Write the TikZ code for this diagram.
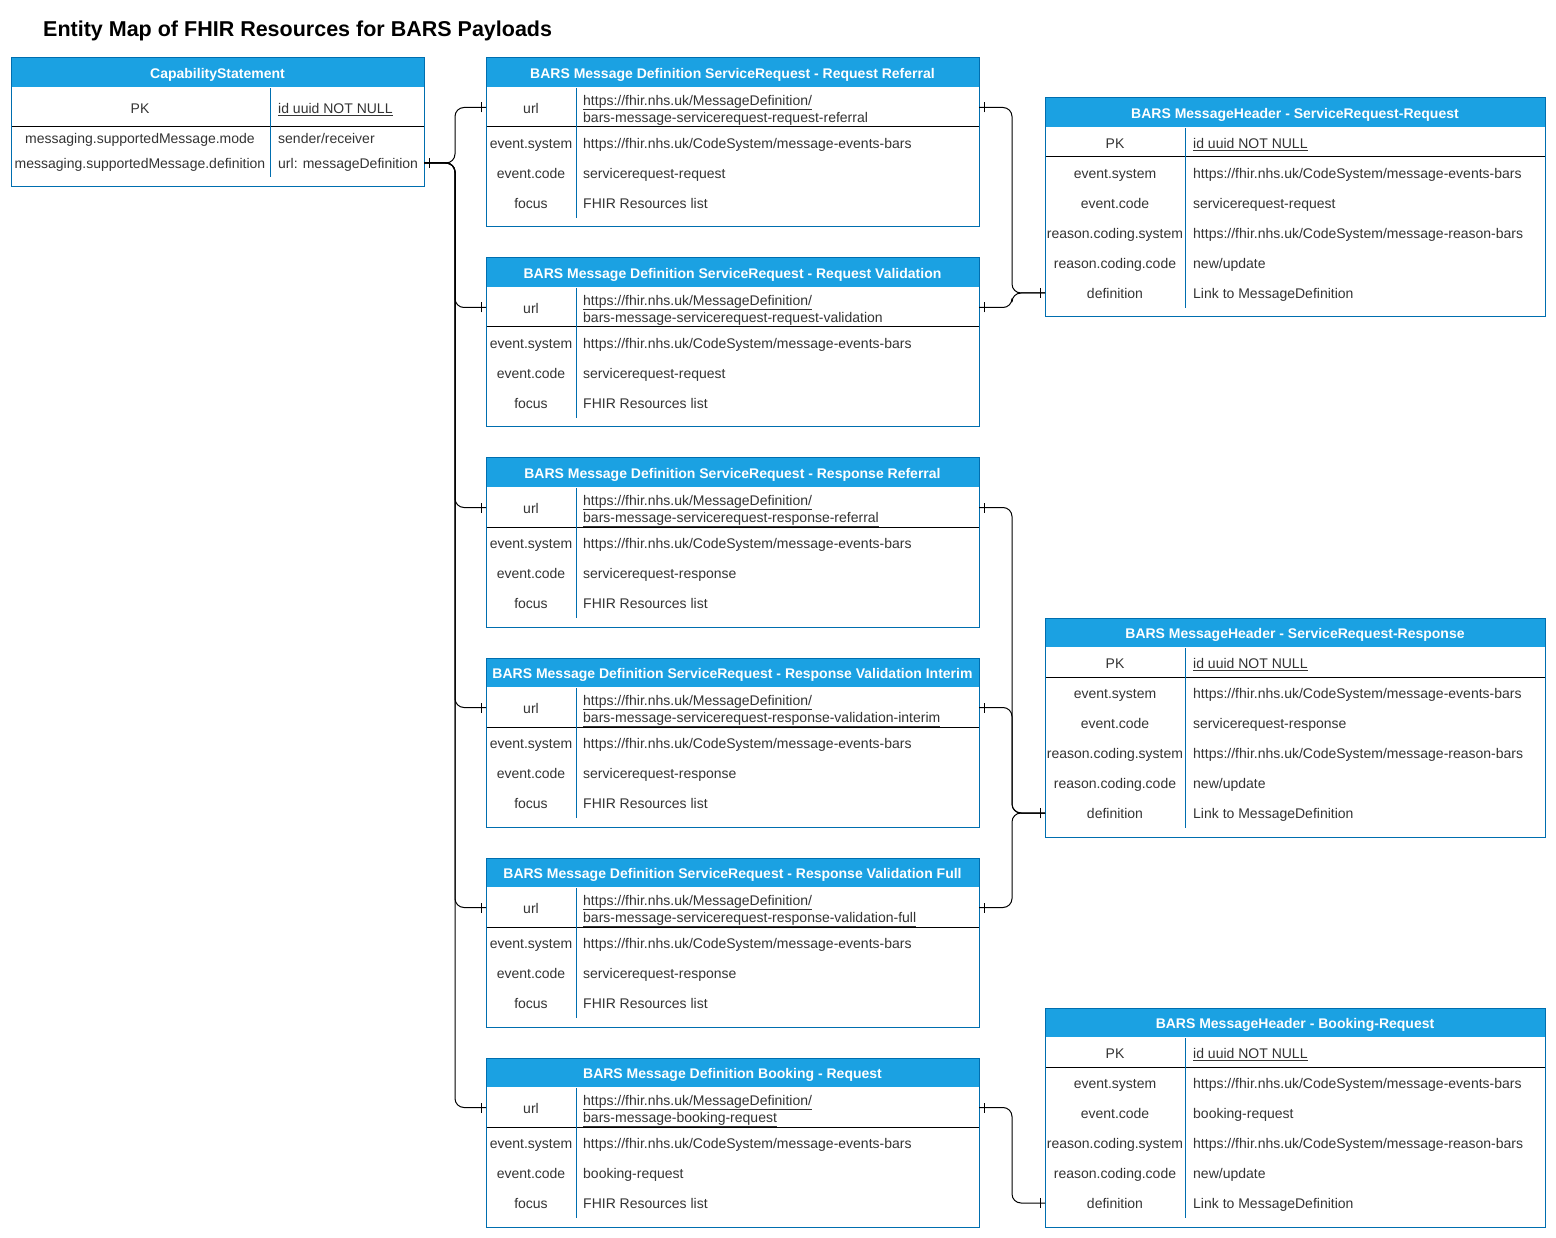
\documentclass[tikz,border=0pt]{standalone}
\usepackage{fontspec}
\setmainfont{Liberation Sans}
\usepackage{tikz}
\usetikzlibrary{decorations.markings}
\definecolor{erblue}{HTML}{1BA1E2}
\definecolor{erline}{HTML}{006EAF}
\definecolor{ertext}{HTML}{333333}

\begin{document}
\begin{tikzpicture}[x=1pt, y=-1pt,
    hdr/.style={fill=erblue},
    box/.style={draw=erline, line width=1pt},
    sep/.style={draw=black, line width=1pt},
    htxt/.style={text=white, font=\fontsize{14}{17}\selectfont\bfseries, inner sep=0pt,
                 yshift=-2pt},
    ktxt/.style={text=ertext, font=\fontsize{14}{17}\selectfont, inner sep=0pt,
                 text height=10pt, text depth=3pt, yshift=-2pt},
    vtxt/.style={ktxt, anchor=west},
    utxt/.style={text=ertext, font=\fontsize{14}{17}\selectfont, inner sep=0pt,
                 anchor=west, align=left, yshift=-3pt},
    fieldrow/.style={inner sep=0pt, outer sep=0pt, minimum height=25},
    rel/.style={draw=black, line width=1pt, rounded corners=9pt, postaction={decorate},
      decoration={markings,
        mark=at position 5pt with {\draw[line width=1pt] (0,-5pt) -- (0,5pt);},
        mark=at position -5pt with {\draw[line width=1pt] (0,-5pt) -- (0,5pt);}}}]
  \useasboundingbox (0,0) rectangle (1556,1238);
  \node[anchor=west, inner sep=0pt, font=\fontsize{21.5}{26}\selectfont\bfseries]
    (title) at (43,31) {Entity Map of FHIR Resources for BARS Payloads};
  % the capability statement
  \fill[hdr] (11,58) rectangle (424,87);
  \node[htxt] (cs-title) at (217.5,73) {CapabilityStatement};
  \node[fieldrow, minimum width=413, anchor=west] (cs-def) at (11,163) {};
  \node[ktxt] (cs-k0) at (140,108) {PK};
  \node[vtxt] (cs-v0) at (278,108) {\underline{id uuid NOT NULL}};
  \node[ktxt] (cs-k1) at (140,138) {messaging.supportedMessage.mode};
  \node[vtxt] (cs-v1) at (278,138) {sender/receiver};
  \node[ktxt] (cs-k2) at (140,163) {messaging.supportedMessage.definition};
  \node[vtxt] (cs-v2) at (278,163) {url: messageDefinition};
  \draw[sep] (11,127) -- (424,127);
  \draw[box] (270,88) -- (270,177);
  \draw[box] (11,58) rectangle (424,187);
  % the six message definitions, one under the other
  \foreach \n/\ttl/\tail/\code in {%
      1/ServiceRequest - Request Referral/servicerequest-request-referral/servicerequest-request,
      2/ServiceRequest - Request Validation/servicerequest-request-validation/servicerequest-request,
      3/ServiceRequest - Response Referral/servicerequest-response-referral/servicerequest-response,
      4/ServiceRequest - Response Validation Interim/servicerequest-response-validation-interim/servicerequest-response,
      5/ServiceRequest - Response Validation Full/servicerequest-response-validation-full/servicerequest-response,
      6/Booking - Request/booking-request/booking-request}{
    \pgfmathsetmacro\ty{58+200*(\n-1)}
    \fill[hdr] (486,\ty) rectangle (979,\ty+29);
    \node[htxt] (md\n-title) at (732.5,\ty+15) {BARS Message Definition \ttl};
    \node[fieldrow, minimum width=493, minimum height=39, anchor=north west]
      (md\n-url) at (486,\ty+30) {};
    \node[ktxt] (md\n-k0) at (531,\ty+50) {url};
    \node[utxt] (md\n-v0) at (583,\ty+50)
      {\underline{https://fhir.nhs.uk/MessageDefinition/}\\\underline{bars-message-\tail}};
    \node[ktxt] (md\n-k1) at (531,\ty+85) {event.system};
    \node[vtxt] (md\n-v1) at (583,\ty+85) {https://fhir.nhs.uk/CodeSystem/message-events-bars};
    \node[ktxt] (md\n-k2) at (531,\ty+115) {event.code};
    \node[vtxt] (md\n-v2) at (583,\ty+115) {\code};
    \node[ktxt] (md\n-k3) at (531,\ty+145) {focus};
    \node[vtxt] (md\n-v3) at (583,\ty+145) {FHIR Resources list};
    \draw[sep] (md\n-url.south west) -- (md\n-url.south east);
    \draw[box] (576,\ty+30) -- (576,\ty+160);
    \draw[box] (486,\ty) rectangle (979,\ty+169);
  }
  % the three message headers on the right
  \foreach \n/\ty/\ttl/\code in {%
      1/98/ServiceRequest-Request/servicerequest-request,
      2/618/ServiceRequest-Response/servicerequest-response,
      3/1008/Booking-Request/booking-request}{
    \fill[hdr] (1045,\ty) rectangle (1545,\ty+29);
    \node[htxt] (mh\n-title) at (1295,\ty+15) {BARS MessageHeader - \ttl};
    \node[fieldrow, minimum width=500, anchor=west] (mh\n-def) at (1045,\ty+195) {};
    \node[ktxt] (mh\n-k0) at (1115,\ty+45) {PK};
    \node[vtxt] (mh\n-v0) at (1193,\ty+45) {\underline{id uuid NOT NULL}};
    \node[ktxt] (mh\n-k1) at (1115,\ty+75) {event.system};
    \node[vtxt] (mh\n-v1) at (1193,\ty+75) {https://fhir.nhs.uk/CodeSystem/message-events-bars};
    \node[ktxt] (mh\n-k2) at (1115,\ty+105) {event.code};
    \node[vtxt] (mh\n-v2) at (1193,\ty+105) {\code};
    \node[ktxt] (mh\n-k3) at (1115,\ty+135) {reason.coding.system};
    \node[vtxt] (mh\n-v3) at (1193,\ty+135) {https://fhir.nhs.uk/CodeSystem/message-reason-bars};
    \node[ktxt] (mh\n-k4) at (1115,\ty+165) {reason.coding.code};
    \node[vtxt] (mh\n-v4) at (1193,\ty+165) {new/update};
    \node[ktxt] (mh\n-k5) at (1115,\ty+195) {definition};
    \node[vtxt] (mh\n-v5) at (1193,\ty+195) {Link to MessageDefinition};
    \draw[sep] (1045,\ty+59) -- (1545,\ty+59);
    \draw[box] (1185,\ty+30) -- (1185,\ty+210);
    \draw[box] (1045,\ty) rectangle (1545,\ty+219);
  }
  % one-to-one links: capability statement to definitions, definitions to headers
  \foreach \m in {1,...,6}
    \draw[rel] (cs-def.east) -- ++(31,0) |- (md\m-url.west);
  \foreach \m/\h in {1/1,2/1,3/2,4/2,5/2,6/3}
    \draw[rel] (md\m-url.east) -- ++(33,0) |- (mh\h-def.west);
\end{tikzpicture}
\end{document}
